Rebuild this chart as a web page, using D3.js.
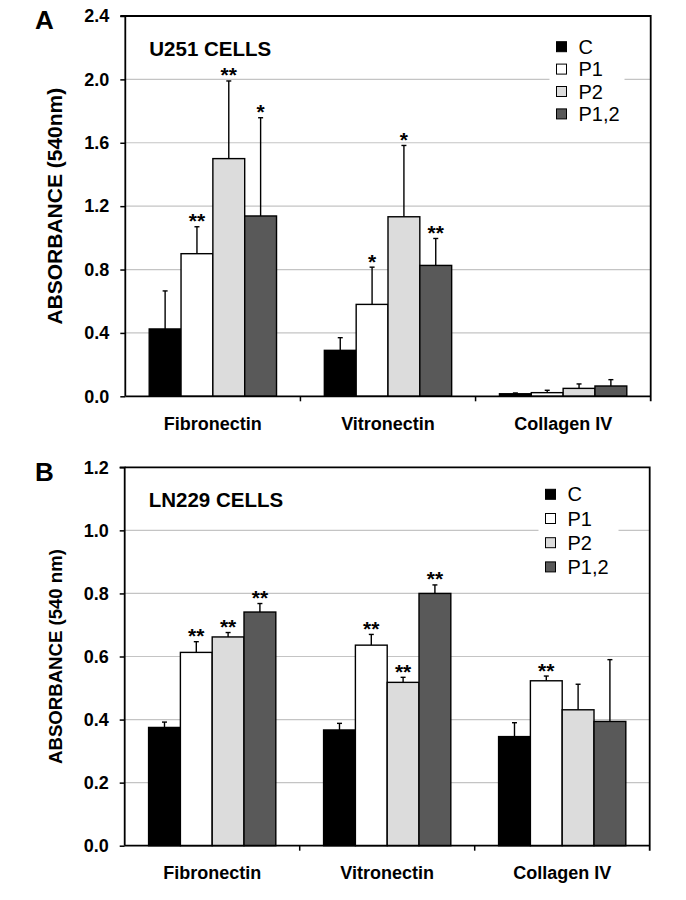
<!DOCTYPE html>
<html><head><meta charset="utf-8">
<script src="https://cdn.jsdelivr.net/npm/d3@7"></script>
<style>body{margin:0;background:#fff}svg{display:block}</style>
</head><body><svg id="c" width="686" height="900"></svg>
<script>
const categories = ["Fibronectin", "Vitronectin", "Collagen IV"];
const seriesNames = ["C", "P1", "P2", "P1,2"];
const seriesColors = ["#000000", "#ffffff", "#dcdcdc", "#595959"];

const u251Means  = [[0.425, 0.90, 1.50, 1.138], [0.29, 0.58, 1.133, 0.826], [0.016, 0.023, 0.05, 0.065]];
const u251Errors = [[0.24, 0.17, 0.49, 0.62], [0.08, 0.235, 0.45, 0.17], [0.005, 0.015, 0.028, 0.04]];
const u251Stars  = [["", "**", "**", "*"], ["", "*", "*", "**"], ["", "", "", ""]];
const u251Ticks  = [0, 0.4, 0.8, 1.2, 1.6, 2.0, 2.4];

const ln229Means  = [[0.375, 0.613, 0.662, 0.741], [0.367, 0.636, 0.518, 0.80], [0.346, 0.523, 0.431, 0.394]];
const ln229Errors = [[0.017, 0.034, 0.014, 0.027], [0.021, 0.034, 0.016, 0.027], [0.044, 0.015, 0.081, 0.196]];
const ln229Stars  = [["", "**", "**", "**"], ["", "**", "**", "**"], ["", "**", "", ""]];
const ln229Ticks  = [0, 0.2, 0.4, 0.6, 0.8, 1.0, 1.2];

const FONT = "'Liberation Sans', Arial, sans-serif";
const svg = d3.select("#c");

function drawPanel(cfg) {
  const g = svg.append("g");
  const {top, bottom, left, right} = cfg;
  const x = d3.scaleBand().domain(categories).range([left, right]).paddingInner(0.273).paddingOuter(0.1365);
  const xs = d3.scaleBand().domain(seriesNames).range([0, x.bandwidth()]).padding(0);
  const y = d3.scaleLinear().domain([0, cfg.ticks[cfg.ticks.length - 1]]).range([bottom, top]);

  // gridlines
  g.append("g").selectAll("line").data(cfg.ticks.slice(1, -1)).join("line")
    .attr("x1", left).attr("x2", right)
    .attr("y1", d => y(d)).attr("y2", d => y(d))
    .attr("stroke", "#c4c4c4").attr("stroke-width", 1.2);

  // legend background
  g.append("rect").attr("x", cfg.legendX - 7).attr("y", cfg.legendTop - 6)
    .attr("width", cfg.legendBgW).attr("height", cfg.legendStep * 4 + 6).attr("fill", "#fff");

  const rows = [];
  categories.forEach((c, i) => seriesNames.forEach((s, j) => rows.push({
    c, s, j, v: cfg.means[i][j], e: cfg.errors[i][j], star: cfg.stars[i][j]
  })));

  // error bars
  const eb = g.append("g").attr("stroke", "#000").attr("stroke-width", 1.4);
  rows.forEach(r => {
    const cx = x(r.c) + xs(r.s) + xs.bandwidth() / 2;
    eb.append("line").attr("x1", cx).attr("x2", cx).attr("y1", y(r.v)).attr("y2", y(r.v + r.e));
    eb.append("line").attr("x1", cx - 2.5).attr("x2", cx + 2.5).attr("y1", y(r.v + r.e)).attr("y2", y(r.v + r.e));
  });

  // bars
  g.append("g").selectAll("rect").data(rows).join("rect")
    .attr("x", d => x(d.c) + xs(d.s))
    .attr("width", xs.bandwidth())
    .attr("y", d => y(d.v))
    .attr("height", d => bottom - y(d.v))
    .attr("fill", d => seriesColors[d.j])
    .attr("stroke", "#000").attr("stroke-width", 1.4);

  // stars
  g.append("g").selectAll("text").data(rows.filter(r => r.star)).join("text")
    .attr("x", d => x(d.c) + xs(d.s) + xs.bandwidth() / 2)
    .attr("y", d => y(d.v + d.e) + 1.5)
    .attr("text-anchor", "middle")
    .attr("font-family", FONT).attr("font-size", 21).attr("font-weight", "bold")
    .text(d => d.star);

  // frame top/right
  g.append("path").attr("d", `M${left},${top}H${right}V${bottom + 5}`)
    .attr("fill", "none").attr("stroke", "#000").attr("stroke-width", 1.8);

  // y axis
  const ya = g.append("g").attr("transform", `translate(${left},0)`)
    .call(d3.axisLeft(y).tickValues(cfg.ticks).tickFormat(d3.format(".1f")).tickSize(5).tickPadding(11));
  ya.select(".domain").attr("stroke-width", 1.8).attr("d", `M-5,${top}H0V${bottom}`);
  ya.selectAll(".tick line").attr("stroke-width", 1.5);
  ya.selectAll("text").attr("font-family", FONT).attr("font-size", 18).attr("font-weight", "bold").attr("fill", "#000");

  // x axis
  const xa = g.append("g").attr("transform", `translate(0,${bottom})`)
    .call(d3.axisBottom(x).tickSize(0).tickPadding(21));
  xa.select(".domain").attr("stroke-width", 1.8).attr("d", `M${left},0H${right}`);
  xa.selectAll("text").attr("font-family", FONT).attr("font-size", 18).attr("font-weight", "bold").attr("fill", "#000");
  const bounds = categories.slice(1).map(c => x(c) - x.step() * x.paddingInner() / 2);
  xa.append("g").selectAll("line").data(bounds).join("line")
    .attr("x1", d => d).attr("x2", d => d).attr("y1", 0).attr("y2", 5)
    .attr("stroke", "#000").attr("stroke-width", 1.5);

  // y title
  g.append("text")
    .attr("transform", `translate(${cfg.yTitleX},${(top + bottom) / 2}) rotate(-90)`)
    .attr("text-anchor", "middle")
    .attr("font-family", FONT).attr("font-size", cfg.yTitleSize).attr("font-weight", "bold")
    .text(cfg.yTitle);

  // panel title
  g.append("text").attr("x", left + 24).attr("y", top + 40)
    .attr("font-family", FONT).attr("font-size", 20.5).attr("font-weight", "bold")
    .text(cfg.title);

  // panel letter
  g.append("text").attr("x", 35).attr("y", top + 13.3)
    .attr("font-family", FONT).attr("font-size", 26).attr("font-weight", "bold")
    .text(cfg.letter);

  // legend
  const lg = g.append("g");
  seriesNames.forEach((s, j) => {
    const ly = cfg.legendTop + j * cfg.legendStep;
    lg.append("rect").attr("x", cfg.legendX).attr("y", ly).attr("width", 10).attr("height", 10)
      .attr("fill", seriesColors[j]).attr("stroke", "#000").attr("stroke-width", 1);
    lg.append("text").attr("x", cfg.legendX + 22).attr("y", ly + 12)
      .attr("font-family", FONT).attr("font-size", 20).text(s);
  });
}

drawPanel({
  letter: "A", title: "U251 CELLS", yTitle: "ABSORBANCE (540nm)", yTitleSize: 21, yTitleX: 61.5,
  means: u251Means, errors: u251Errors, stars: u251Stars, ticks: u251Ticks,
  top: 16, bottom: 396.3, left: 125.3, right: 650.7,
  legendX: 556.5, legendTop: 41.7, legendStep: 22.4, legendBgW: 75
});

drawPanel({
  letter: "B", title: "LN229 CELLS", yTitle: "ABSORBANCE (540 nm)", yTitleSize: 18.6, yTitleX: 61.5,
  means: ln229Means, errors: ln229Errors, stars: ln229Stars, ticks: ln229Ticks,
  top: 467.3, bottom: 845.7, left: 124.7, right: 649.7,
  legendX: 545.5, legendTop: 489.3, legendStep: 24.2, legendBgW: 80
});
</script></body></html>
